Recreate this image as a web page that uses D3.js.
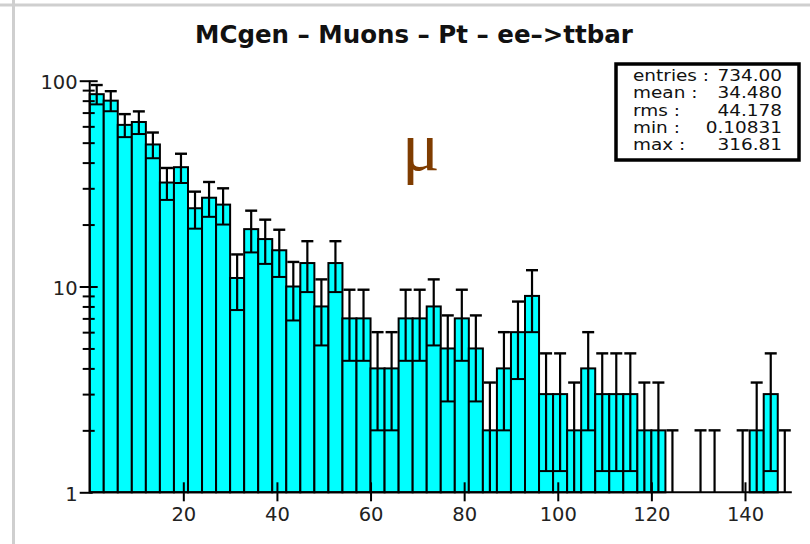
<!DOCTYPE html>
<html>
<head>
<meta charset="utf-8">
<script src="https://cdn.jsdelivr.net/npm/d3@7"></script>
<style>
  body { margin: 0; background: #fff; }
  svg { display: block; }
</style>
</head>
<body>
<script>
const WIDTH = 810;
const HEIGHT = 544;

// histogram: Pt of generated muons, bins of 3 GeV from 0 to 150
const BIN_EDGES = [0, 3, 6, 9, 12, 15, 18, 21, 24, 27, 30, 33, 36, 39, 42, 45, 48, 51, 54, 57,
    60, 63, 66, 69, 72, 75, 78, 81, 84, 87, 90, 93, 96, 99, 102, 105, 108, 111, 114, 117,
    120, 123, 126, 129, 132, 135, 138, 141, 144, 147, 150];
const COUNTS = [86, 80, 61, 63, 49, 32, 38, 24, 27, 25,
    11, 19, 17, 15, 10, 13, 8, 13, 7, 7,
    4, 4, 7, 7, 8, 5, 7, 5, 2, 4,
    6, 9, 3, 3, 2, 4, 3, 3, 3, 2,
    2, 1, 0, 1, 1, 0, 1, 2, 3, 1];

const X_TICKS = [20, 40, 60, 80, 100, 120, 140];
const Y_MAJOR = [1, 10, 100];
const Y_MINOR = [2, 3, 4, 5, 6, 7, 8, 9, 20, 30, 40, 50, 60, 70, 80, 90];

const STAT_LABELS = ['entries :', 'mean :', 'rms :', 'min :', 'max :'];
const STAT_VALUES = ['734.00', '34.480', '44.178', '0.10831', '316.81'];

const TITLE = 'MCgen \u2013 Muons \u2013 Pt \u2013 ee\u2013>ttbar';

const FONT = '"DejaVu Sans", Verdana, sans-serif';

const svg = d3.select('body')
    .append('svg')
    .attr('width', WIDTH)
    .attr('height', HEIGHT);

svg.append('rect')
    .attr('width', WIDTH)
    .attr('height', HEIGHT)
    .attr('fill', '#fff');

// light grey panel border (only top and left are visible)
svg.append('line')
    .attr('x1', 13.5).attr('y1', 0).attr('x2', 13.5).attr('y2', HEIGHT)
    .attr('stroke', '#cfcfcf').attr('stroke-width', 3);
svg.append('line')
    .attr('x1', 0).attr('y1', 5).attr('x2', WIDTH).attr('y2', 5)
    .attr('stroke', '#cfcfcf').attr('stroke-width', 3);

const x = d3.scaleLinear()
    .domain([0, 150])
    .range([89.7, 791.8]);

const y = d3.scaleLog()
    .domain([1, 100])
    .range([492.3, 80.7]);

const bins = COUNTS.map((n, i) => ({
    lo: BIN_EDGES[i],
    hi: BIN_EDGES[i + 1],
    n: n,
    err: Math.sqrt(n)
})).filter(d => d.n > 0);

const hist = svg.append('g');

hist.selectAll('rect.bar')
    .data(bins)
    .join('rect')
    .attr('class', 'bar')
    .attr('x', d => x(d.lo))
    .attr('width', d => x(d.hi) - x(d.lo))
    .attr('y', d => y(d.n))
    .attr('height', d => y(1) - y(d.n))
    .attr('fill', '#00ffff')
    .attr('stroke', 'black')
    .attr('stroke-width', 2);

// lower error edge drawn across the bin
hist.selectAll('line.low')
    .data(bins.filter(d => d.n - d.err > 1))
    .join('line')
    .attr('class', 'low')
    .attr('x1', d => x(d.lo))
    .attr('x2', d => x(d.hi))
    .attr('y1', d => y(d.n - d.err))
    .attr('y2', d => y(d.n - d.err))
    .attr('stroke', 'black')
    .attr('stroke-width', 2);

hist.selectAll('line.err')
    .data(bins)
    .join('line')
    .attr('class', 'err')
    .attr('x1', d => x((d.lo + d.hi) / 2))
    .attr('x2', d => x((d.lo + d.hi) / 2))
    .attr('y1', d => y(d.n + d.err))
    .attr('y2', d => d.n - d.err > 1 ? y(d.n - d.err) : y(1))
    .attr('stroke', 'black')
    .attr('stroke-width', 2.2);

hist.selectAll('line.cap')
    .data(bins)
    .join('line')
    .attr('class', 'cap')
    .attr('x1', d => x((d.lo + d.hi) / 2) - 6)
    .attr('x2', d => x((d.lo + d.hi) / 2) + 6)
    .attr('y1', d => y(d.n + d.err))
    .attr('y2', d => y(d.n + d.err))
    .attr('stroke', 'black')
    .attr('stroke-width', 2.4);

// axes
const xAxis = svg.append('g')
    .attr('transform', `translate(0,${y(1)})`)
    .call(d3.axisBottom(x).tickValues(X_TICKS).tickSize(9).tickPadding(6));
xAxis.select('.domain').remove();
xAxis.selectAll('.tick line')
    .attr('y1', -10)
    .attr('stroke-width', 2);
xAxis.selectAll('.tick text')
    .attr('font-family', FONT)
    .attr('font-size', 19.5)
    .attr('fill', '#222');

const yMinor = svg.append('g')
    .attr('transform', `translate(${x(0)},0)`)
    .call(d3.axisLeft(y).tickValues(Y_MINOR).tickFormat('').tickSize(7));
yMinor.select('.domain').remove();
yMinor.selectAll('.tick line')
    .attr('x1', 5)
    .attr('stroke-width', 2);

const yAxis = svg.append('g')
    .attr('transform', `translate(${x(0)},0)`)
    .call(d3.axisLeft(y).tickValues(Y_MAJOR).tickFormat(d3.format('d')).tickSize(10).tickPadding(2));
yAxis.select('.domain').remove();
yAxis.selectAll('.tick line')
    .attr('x1', d => d === 1 ? 3 : 8)
    .attr('stroke-width', 2);
yAxis.selectAll('.tick text')
    .attr('font-family', FONT)
    .attr('font-size', 19.5)
    .attr('dy', '0.4em')
    .attr('fill', '#222');

svg.append('line')
    .attr('x1', x(0)).attr('x2', x(150))
    .attr('y1', y(1)).attr('y2', y(1))
    .attr('stroke', 'black')
    .attr('stroke-width', 2);
svg.append('line')
    .attr('x1', x(0)).attr('x2', x(0))
    .attr('y1', y(1)).attr('y2', y(100))
    .attr('stroke', 'black')
    .attr('stroke-width', 2);

// title
svg.append('text')
    .attr('x', 414)
    .attr('y', 43)
    .attr('text-anchor', 'middle')
    .attr('font-family', FONT)
    .attr('font-weight', 'bold')
    .attr('font-size', 24.5)
    .attr('fill', '#111')
    .text(TITLE);

// particle label
svg.append('text')
    .attr('x', 402)
    .attr('y', 170)
    .attr('font-family', '"Liberation Serif", "DejaVu Serif", serif')
    .attr('font-size', 70)
    .attr('fill', '#7f3c00')
    .text('\u03bc');

// statistics box
const BOX = { x: 616, y: 64, w: 183, h: 96 };
svg.append('clipPath')
    .attr('id', 'statclip')
    .append('rect')
    .attr('x', BOX.x).attr('y', BOX.y + 5)
    .attr('width', BOX.w).attr('height', BOX.h - 5);

const stats = svg.append('g');
stats.append('rect')
    .attr('x', BOX.x).attr('y', BOX.y)
    .attr('width', BOX.w).attr('height', BOX.h)
    .attr('fill', 'white');

const statText = stats.append('g')
    .attr('clip-path', 'url(#statclip)')
    .attr('font-family', FONT)
    .attr('font-size', 16.5)
    .attr('fill', '#111');

statText.selectAll('text.lab')
    .data(STAT_LABELS)
    .join('text')
    .attr('class', 'lab')
    .attr('transform', (d, i) => `translate(633,${81 + i * 17.3}) scale(1.12,1)`)
    .text(d => d);

statText.selectAll('text.val')
    .data(STAT_VALUES)
    .join('text')
    .attr('class', 'val')
    .attr('text-anchor', 'end')
    .attr('transform', (d, i) => `translate(782,${81 + i * 17.3}) scale(1.12,1)`)
    .text(d => d);

stats.append('rect')
    .attr('x', BOX.x).attr('y', BOX.y)
    .attr('width', BOX.w).attr('height', BOX.h)
    .attr('fill', 'none')
    .attr('stroke', 'black')
    .attr('stroke-width', 3.5);
</script>
</body>
</html>
